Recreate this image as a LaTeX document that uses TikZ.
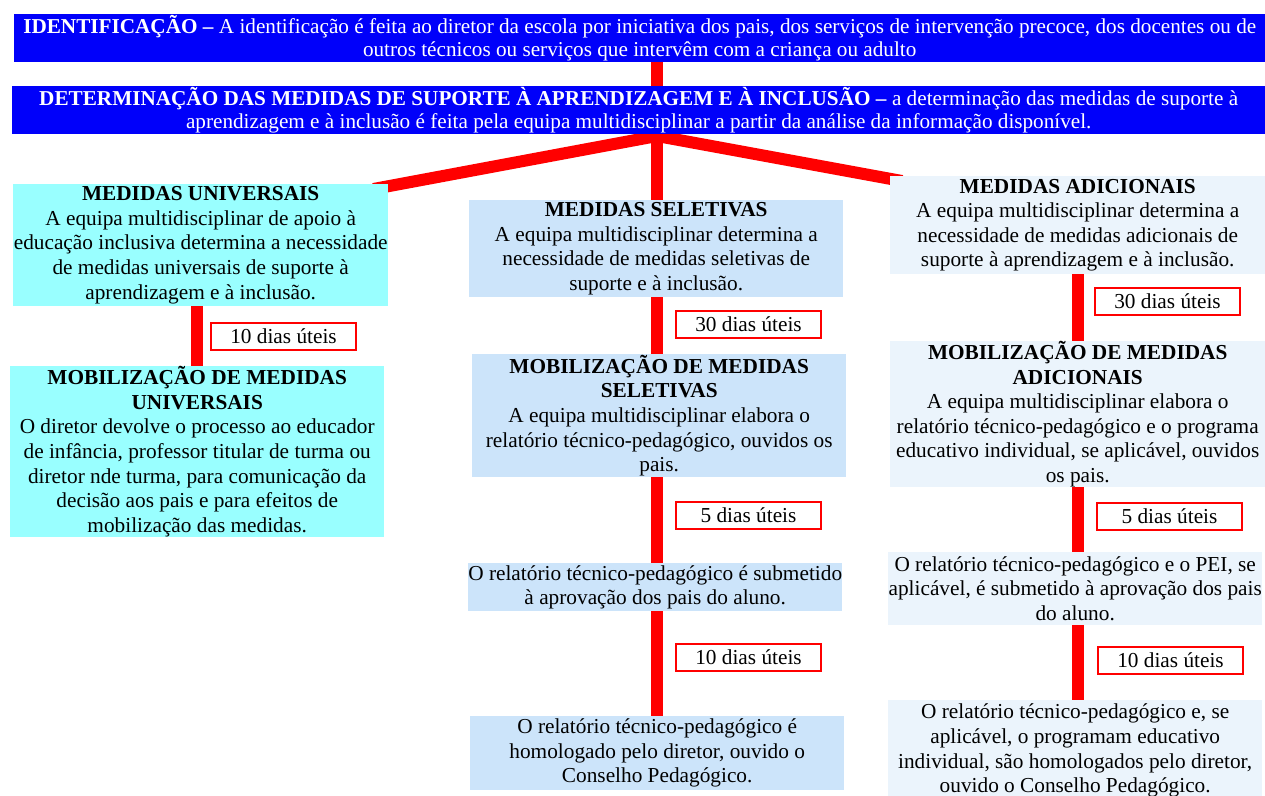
\documentclass[tikz,border=0pt]{standalone}
\usepackage{fontspec}
\setmainfont{Liberation Serif}
\usetikzlibrary{backgrounds}
\usetikzlibrary{calc}

\definecolor{headBlue}{RGB}{0,0,250}
\definecolor{univCyan}{RGB}{153,255,255}
\definecolor{selBlue}{RGB}{204,228,250}
\definecolor{adiBlue}{RGB}{235,244,252}

\begin{document}
\begin{tikzpicture}[x = 1pt, y = -1pt, font = \fontsize{21.3}{24.6}\selectfont]
	\tikzstyle{headStyle} = [anchor = north west, fill = headBlue, text = white, inner sep = 0pt, align = center, font = \fontsize{21.2}{23.5}\selectfont]
	\tikzstyle{univStyle} = [anchor = north west, fill = univCyan, inner sep = 0pt, align = center]
	\tikzstyle{selStyle} = [anchor = north west, fill = selBlue, inner sep = 0pt, align = center]
	\tikzstyle{adiStyle} = [anchor = north west, fill = adiBlue, inner sep = 0pt, align = center]
	\tikzstyle{prazoStyle} = [anchor = north west, draw = red, line width = 2pt, fill = white, minimum width = 145pt, minimum height = 27pt, inner sep = 0pt]
	\tikzstyle{linkStyle} = [draw = red, line width = 12pt]
	\useasboundingbox (0,0) rectangle (1265,795);
	% cabecalhos
	\node[headStyle, minimum width = 1251pt, minimum height = 48pt] (h1) at (14,14) {\textbf{IDENTIFICAÇÃO –} A identificação é feita ao diretor da escola por iniciativa dos pais, dos serviços de intervenção precoce, dos docentes ou de\\outros técnicos ou serviços que intervêm com a criança ou adulto};
	\node[headStyle, minimum width = 1253pt, minimum height = 48pt] (h2) at (12,86) {\textbf{DETERMINAÇÃO DAS MEDIDAS DE SUPORTE À APRENDIZAGEM E À INCLUSÃO –} a determinação das medidas de suporte à\\aprendizagem e à inclusão é feita pela equipa multidisciplinar a partir da análise da informação disponível.};
	% medidas universais
	\node[univStyle, minimum width = 375pt, minimum height = 122pt] (u1) at (13,184) {\textbf{MEDIDAS UNIVERSAIS}\\A equipa multidisciplinar de apoio à\\educação inclusiva determina a necessidade\\de medidas universais de suporte à\\aprendizagem e à inclusão.};
	\node[univStyle, minimum width = 374pt, minimum height = 171pt] (u2) at (10,366) {\textbf{MOBILIZAÇÃO DE MEDIDAS}\\\textbf{UNIVERSAIS}\\O diretor devolve o processo ao educador\\de infância, professor titular de turma ou\\diretor nde turma, para comunicação da\\decisão aos pais e para efeitos de\\mobilização das medidas.};
	% medidas seletivas
	\node[selStyle, minimum width = 374pt, minimum height = 97pt] (s1) at (469,200) {\textbf{MEDIDAS SELETIVAS}\\A equipa multidisciplinar determina a\\necessidade de medidas seletivas de\\suporte e à inclusão.};
	\node[selStyle, minimum width = 374pt, minimum height = 123pt] (s2) at (472,354) {\textbf{MOBILIZAÇÃO DE MEDIDAS}\\\textbf{SELETIVAS}\\A equipa multidisciplinar elabora o\\relatório técnico-pedagógico, ouvidos os\\pais.};
	\node[selStyle, minimum width = 374pt, minimum height = 48pt] (s3) at (468,563) {O relatório técnico-pedagógico é submetido\\à aprovação dos pais do aluno.};
	\node[selStyle, minimum width = 374pt, minimum height = 74pt] (s4) at (470,716) {O relatório técnico-pedagógico é\\homologado pelo diretor, ouvido o\\Conselho Pedagógico.};
	% medidas adicionais
	\node[adiStyle, minimum width = 375pt, minimum height = 98pt] (a1) at (890,176) {\textbf{MEDIDAS ADICIONAIS}\\A equipa multidisciplinar determina a\\necessidade de medidas adicionais de\\suporte à aprendizagem e à inclusão.};
	\node[adiStyle, minimum width = 375pt, minimum height = 146pt] (a2) at (890,341) {\textbf{MOBILIZAÇÃO DE MEDIDAS}\\\textbf{ADICIONAIS}\\A equipa multidisciplinar elabora o\\relatório técnico-pedagógico e o programa\\educativo individual, se aplicável, ouvidos\\os pais.};
	\node[adiStyle, minimum width = 374pt, minimum height = 73pt] (a3) at (888,552) {O relatório técnico-pedagógico e o PEI, se\\aplicável, é submetido à aprovação dos pais\\do aluno.};
	\node[adiStyle, minimum width = 374pt, minimum height = 101pt] (a4) at (888,700) {O relatório técnico-pedagógico e, se\\aplicável, o programam educativo\\individual, são homologados pelo diretor,\\ouvido o Conselho Pedagógico.};
	% prazos
	\node[prazoStyle] (p1) at (210,322) {10 dias úteis};
	\node[prazoStyle] (p2) at (675,310) {30 dias úteis};
	\node[prazoStyle] (p3) at (675,501) {5 dias úteis};
	\node[prazoStyle] (p4) at (675,643) {10 dias úteis};
	\node[prazoStyle] (p5) at (1094,287) {30 dias úteis};
	\node[prazoStyle] (p6) at (1096,502) {5 dias úteis};
	\node[prazoStyle] (p7) at (1097,646) {10 dias úteis};
	\coordinate (hub) at (657,136);
	\begin{scope}[on background layer]
		\draw[linkStyle] (h1.south -| hub) -- (s4.north -| hub);
		\draw[linkStyle] (hub) -- ($(u1.north east)+(-15,5)$);
		\draw[linkStyle] (hub) -- ($(a1.north west)+(12,5)$);
		\draw[linkStyle] (u2.north |- u1.south) -- (u2.north);
		\draw[linkStyle] (a1.south) -- (a4.north -| a1.south);
	\end{scope}
\end{tikzpicture}
\end{document}
